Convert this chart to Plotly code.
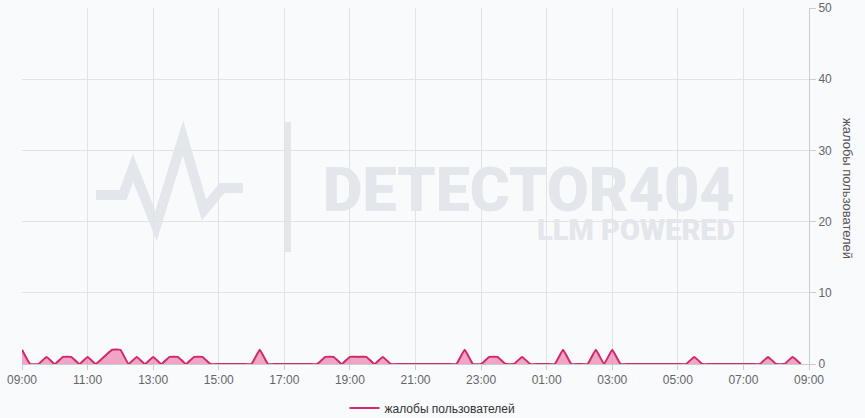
import pandas as pd
import plotly.graph_objects as go

# ---- data ----
start_time = "2024-01-01 09:00"
end_time = "2024-01-02 09:00"
series_name = "жалобы пользователей"
complaints = [
    2, 0, 0, 1, 0, 1, 1, 0, 1, 0, 1, 2, 2, 0, 1, 0,
    1, 0, 1, 1, 0, 1, 1, 0, 0, 0, 0, 0, 0, 2, 0, 0,
    0, 0, 0, 0, 0, 1, 1, 0, 1, 1, 1, 0, 1, 0, 0, 0,
    0, 0, 0, 0, 0, 0, 2, 0, 0, 1, 1, 0, 0, 1, 0, 0,
    0, 0, 2, 0, 0, 0, 2, 0, 2, 0, 0, 0, 0, 0, 0, 0,
    0, 0, 1, 0, 0, 0, 0, 0, 0, 0, 0, 1, 0, 0, 1, 0,
]
times = pd.date_range(start_time, periods=len(complaints), freq="15min")
y_ticks = [0, 10, 20, 30, 40, 50]

# ---- style ----
W, H = 865, 418
ML, MR, MT, MB = 22, 56, 8, 54
PW, PH = W - ML - MR, H - MT - MB
BG = "#f9fafc"
LINE = "#cf2a6b"
FILL = "rgba(232, 80, 145, 0.5)"
WM = "#e3e6ea"
FONT = "Liberation Sans, Arial, sans-serif"


def px(x):
    return (x - ML) / PW


def py(y):
    return (H - MB - y) / PH


fig = go.Figure()
fig.add_trace(go.Scatter(
    x=times, y=complaints, mode="lines", fill="tozeroy", fillcolor=FILL,
    line=dict(width=0, shape="spline", smoothing=0.3), showlegend=False,
    hoverinfo="skip",
))
fig.add_trace(go.Scatter(
    x=times, y=complaints, mode="lines", name=series_name,
    line=dict(color=LINE, width=2, shape="spline", smoothing=0.3),
))

# watermark logo (pulse line + divider)
pulse = [(96, 195), (123, 195), (133, 168), (156, 226), (183, 138),
         (204, 210), (222, 188), (243, 188)]
path = "M " + " L ".join(f"{px(a):.5f},{py(b):.5f}" for a, b in pulse)
shapes = [
    dict(type="path", path=path, xref="paper", yref="paper", layer="below",
         line=dict(color=WM, width=10)),
    dict(type="rect", x0=px(285), x1=px(291), y0=py(252), y1=py(122),
         xref="paper", yref="paper", layer="below",
         fillcolor=WM, line=dict(width=0)),
]

annotations = [
    dict(text="DETECTOR404", x=px(737), y=py(190), xref="paper", yref="paper",
         xanchor="right", yanchor="middle", showarrow=False,
         font=dict(family="Roboto", size=61, color=WM, weight=900)),
    dict(text="LLM POWERED", x=px(737), y=py(230), xref="paper", yref="paper",
         xanchor="right", yanchor="middle", showarrow=False,
         font=dict(family="Roboto", size=29, color=WM, weight=900)),
    dict(text=series_name, x=px(848), y=py(188), xref="paper", yref="paper",
         xanchor="center", yanchor="middle", showarrow=False, textangle=90,
         font=dict(family=FONT, size=13, color="#555")),
]

fig.update_layout(
    width=W, height=H,
    margin=dict(l=ML, r=MR, t=MT, b=MB, autoexpand=False),
    paper_bgcolor=BG, plot_bgcolor=BG,
    font=dict(family=FONT, size=12, color="#666"),
    shapes=shapes, annotations=annotations,
    showlegend=True,
    legend=dict(orientation="h", xref="container", yref="container",
                x=0.5, xanchor="center", y=0.024, yanchor="middle",
                font=dict(family=FONT, size=12, color="#333"),
                bgcolor="rgba(0,0,0,0)"),
    hovermode="x unified",
)
fig.update_xaxes(
    range=[start_time, end_time], dtick=2 * 3600 * 1000, tickformat="%H:%M",
    tick0=start_time,
    showgrid=True, gridcolor="#e3e3e3", gridwidth=1,
    showline=True, linecolor="#cccccc", linewidth=1,
    ticks="outside", ticklen=5, tickcolor="#cccccc",
    tickfont=dict(family=FONT, size=12, color="#666"),
    zeroline=False, automargin=False,
)
fig.update_yaxes(
    side="right", range=[0, 50], tickvals=y_ticks,
    showgrid=True, gridcolor="#e3e3e3", gridwidth=1,
    showline=True, linecolor="#cccccc", linewidth=1,
    ticks="outside", ticklen=6, tickcolor="#cccccc",
    tickfont=dict(family=FONT, size=12, color="#666"),
    zeroline=False, automargin=False,
)

fig.write_html(
    "out.html",
    config={"displayModeBar": False},
    post_script=(
        "document.body.style.margin='0';"
        f"document.body.style.background='{BG}';"
    ),
)
